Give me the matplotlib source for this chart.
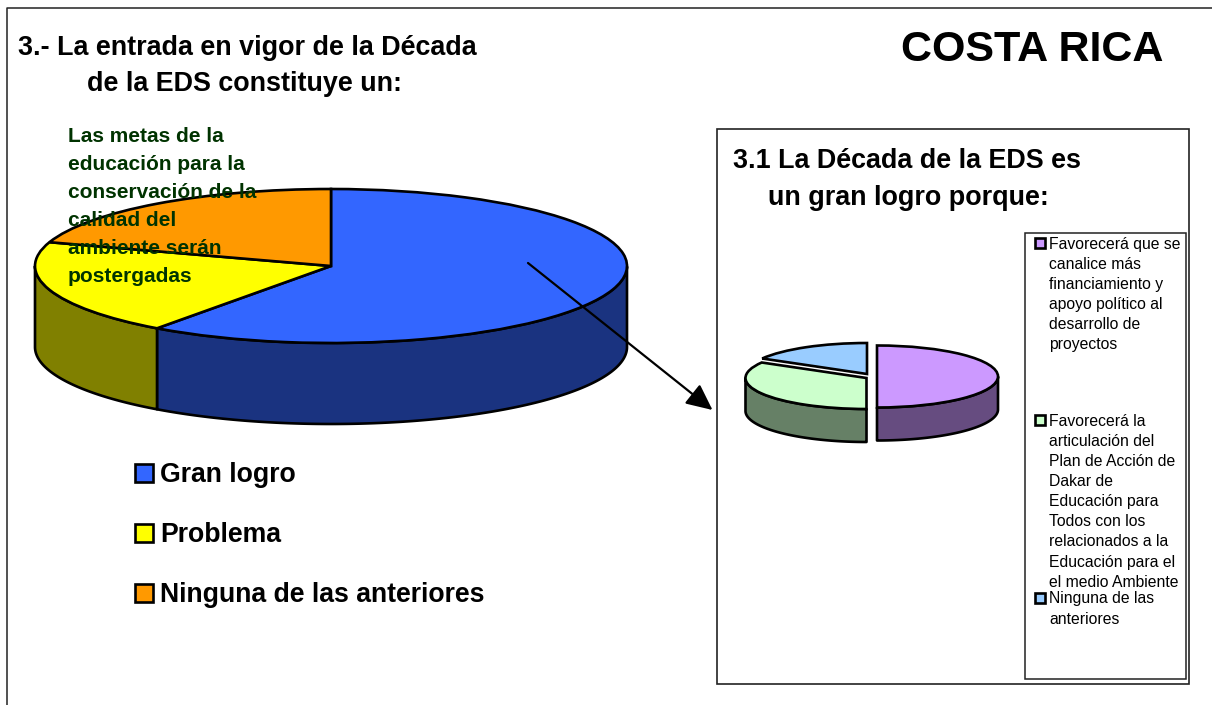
import numpy as np
import matplotlib
matplotlib.use('Agg')
import matplotlib.pyplot as plt
from matplotlib.patches import Rectangle

plt.rcParams['font.family'] = ['Liberation Sans', 'DejaVu Sans']

W, H = 1212, 705

# left pie
main_labels = ['Gran logro', 'Problema', 'Ninguna de las anteriores']
main_values = [60, 20, 20]
main_colors = ['#3366FF', '#FFFF00', '#FF9900']
main_sides = ['#1A3380', '#808000', '#804C00']

# right pie
sub_labels = [
    ['Favorecerá que se', 'canalice más', 'financiamiento y', 'apoyo político al',
     'desarrollo de', 'proyectos'],
    ['Favorecerá la', 'articulación del', 'Plan de Acción de', 'Dakar de',
     'Educación para', 'Todos con los', 'relacionados a la', 'Educación para el',
     'el medio Ambiente'],
    ['Ninguna de las', 'anteriores'],
]
sub_values = [3, 2, 1]
sub_colors = ['#CC99FF', '#CCFFCC', '#99CCFF']
sub_sides = ['#664C80', '#668066', '#4C6680']

note_lines = ['Las metas de la', 'educación para la', 'conservación de la',
              'calidad del', 'ambiente serán', 'postergadas']


def pie3d(values, colors, sides, cx, cy, rx, ry, depth, lw, centers=None):
    # pie in its own axes, squashed by switching the aspect off
    pad = 1.25
    h = ry * 4 + depth * 2
    ax = fig.add_axes([(cx - rx * pad) / W, 1 - (cy + h / 2) / H, 2 * rx * pad / W, h / H], zorder=1)
    wedges, _ = ax.pie(values, colors=colors, startangle=90, counterclock=False,
                       wedgeprops={'edgecolor': 'black', 'linewidth': lw, 'zorder': 3})
    ax.set_aspect('auto')
    ax.set_xlim(-pad, pad)
    ax.set_ylim(-h / 2 / ry, h / 2 / ry)
    d = depth / ry
    for i, w in enumerate(wedges):
        if centers is not None:
            w.set_center(((centers[i][0] - cx) / rx, -(centers[i][1] - cy) / ry))
        x0, y0 = w.center
        t = np.radians(np.linspace(w.theta1, w.theta2, 400))
        t = t[np.sin(t) <= 0]
        if len(t) == 0:
            continue
        xs = x0 + np.cos(t)
        ys = y0 + np.sin(t)
        ax.fill(np.r_[xs, xs[::-1]], np.r_[ys, ys[::-1] - d], facecolor=sides[i],
                edgecolor='black', linewidth=lw, zorder=2, joinstyle='round')
    return ax


fig = plt.figure(figsize=(W / 100, H / 100), dpi=100, facecolor='white')

pie3d(main_values, main_colors, main_sides, 331, 266, 296, 77, 81, 1.9)
pie3d(sub_values, sub_colors, sub_sides, 872, 376, 121, 31, 33, 1.9,
      centers=[(877, 376.5), (866.5, 378), (867, 374)])

# everything else goes on a pixel sized overlay
top = fig.add_axes([0, 0, 1, 1], zorder=2)
top.set_xlim(0, W)
top.set_ylim(H, 0)
top.axis('off')
top.patch.set_alpha(0)

top.plot([6.5, 6.5, W], [H, 8, 8], color='#222222', lw=1.1)
top.add_patch(Rectangle((717, 129), 472, 555, fill=False, edgecolor='#222222', lw=1.2))
top.add_patch(Rectangle((1025, 232.5), 161, 446, fill=False, edgecolor='#222222', lw=1.1))

top.text(18, 48, '3.- La entrada en vigor de la Década', fontsize=19.35, fontweight='bold', va='center')
top.text(87, 84, 'de la EDS constituye un:', fontsize=19.35, fontweight='bold', va='center')
top.text(901, 50, 'COSTA RICA', fontsize=31, fontweight='bold', va='center')
top.text(733, 161, '3.1 La Década de la EDS es', fontsize=19.4, fontweight='bold', va='center')
top.text(768, 198, 'un gran logro porque:', fontsize=19.4, fontweight='bold', va='center')

for i, line in enumerate(note_lines):
    top.text(68, 136 + i * 28, line, fontsize=15, fontweight='bold', color='#003300', va='center')

for i, lab in enumerate(main_labels):
    y = 473 + i * 60
    top.add_patch(Rectangle((135, y - 9), 18, 18, facecolor=main_colors[i], edgecolor='black', lw=1.9))
    top.text(160, y + 2, lab, fontsize=19.2, fontweight='bold', va='center')

for lines, y0, col in zip(sub_labels, [244, 421, 599], sub_colors):
    top.add_patch(Rectangle((1035, y0 - 6), 10, 10, facecolor=col, edgecolor='black', lw=1.9))
    for j, line in enumerate(lines):
        top.text(1049, y0 + j * 20.15, line, fontsize=11.3, va='center')

top.annotate('', xy=(712.5, 410), xytext=(528, 263),
             arrowprops=dict(arrowstyle='-|>,head_length=1.0,head_width=0.47', color='black', lw=1.6,
                             shrinkA=0, shrinkB=0, mutation_scale=16))

fig.savefig('out.png', dpi=100)
